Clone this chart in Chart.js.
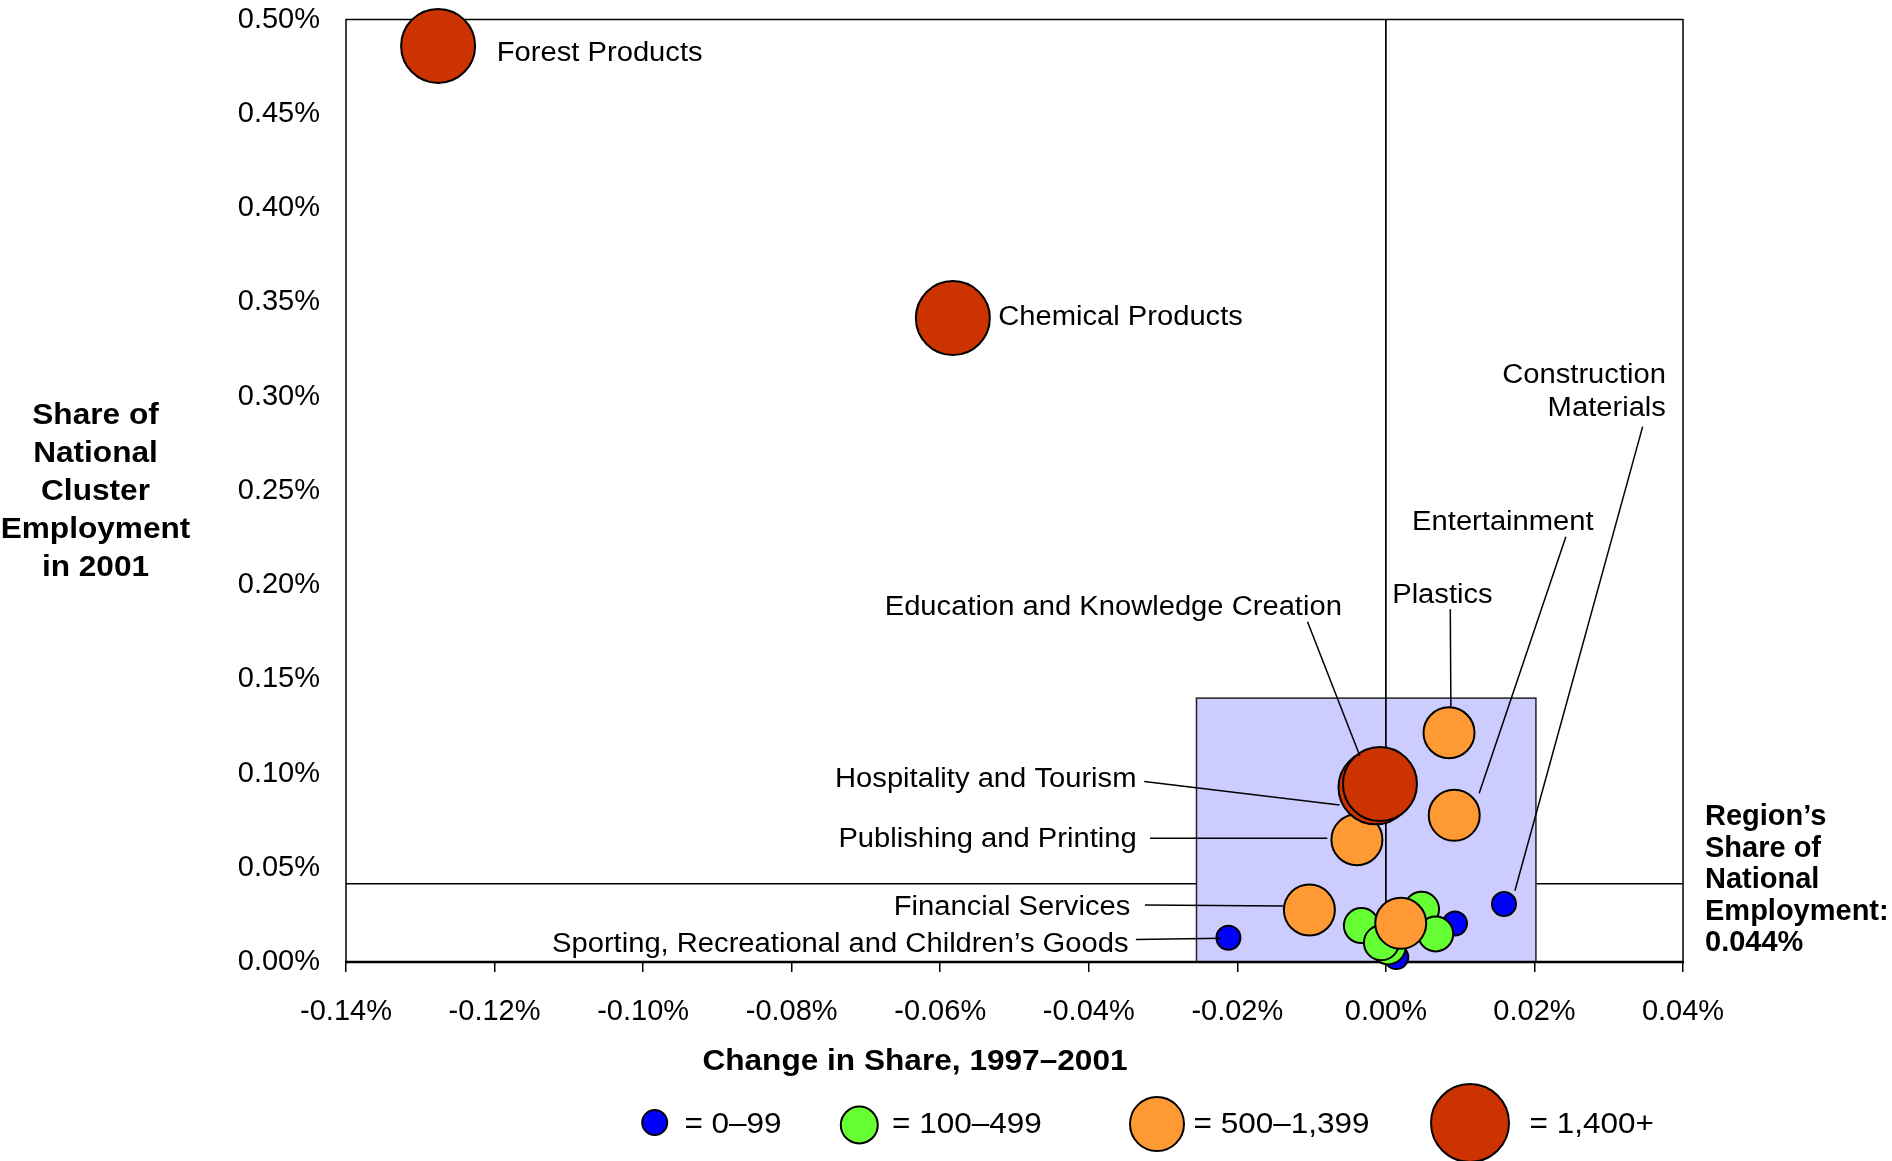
<!DOCTYPE html>
<html>
<head>
<meta charset="utf-8">
<script src="https://cdn.jsdelivr.net/npm/chart.js@4.4.1/dist/chart.umd.min.js"></script>
<style>
html,body{margin:0;padding:0;background:#fff;overflow:hidden}
canvas{display:block}
</style>
</head>
<body>
<canvas id="c" width="1892" height="1161"></canvas>
<script>
// ---------------- DATA ----------------
const clusterNames = [
  'Forest Products', 'Chemical Products', 'Hospitality and Tourism',
  'Education and Knowledge Creation', 'Plastics', 'Entertainment',
  'Publishing and Printing', 'Financial Services', '',
  '', '', '', '', '',
  'Sporting, Recreational and Children\u2019s Goods', 'Construction Materials', '', ''
];
// Change in share 1997–2001 (percentage points)
const changeInShare = [
  -0.1276, -0.0583, -0.0014, -0.0008, 0.0085, 0.0092, -0.0039, -0.0103, 0.0020,
  0.0048, -0.0033, 0.0003, -0.0006, 0.0067,
  -0.0212, 0.0159, 0.0093, 0.0014
];
// Share of national cluster employment in 2001 (%)
const shareOfNational = [
  0.486, 0.3416, 0.0927, 0.0944, 0.1216, 0.0778, 0.0649, 0.0276, 0.0205,
  0.0280, 0.0193, 0.0080, 0.0102, 0.0149,
  0.0129, 0.0308, 0.0204, 0.0026
];
// Employment size class: 0 = 0–99, 1 = 100–499, 2 = 500–1,399, 3 = 1,400+
const sizeClass = [
  3, 3, 3, 3, 2, 2, 2, 2, 2,
  1, 1, 1, 1, 1,
  0, 0, 0, 0
];
const sizeClassLabels = ['= 0\u201399', '= 100\u2013499', '= 500\u20131,399', '= 1,400+'];
const xTickValues = [-0.14, -0.12, -0.10, -0.08, -0.06, -0.04, -0.02, 0.00, 0.02, 0.04];
const yTickValues = [0, 0.05, 0.10, 0.15, 0.20, 0.25, 0.30, 0.35, 0.40, 0.45, 0.50];
const regionShareLabel = '0.044%';
const regionShareLine = 0.0415;
const focusBox = { xMin: -0.0255, xMax: 0.0202, yMin: 0, yMax: 0.14 };

// ---------------- STYLE / LAYOUT ----------------
const FONT = '"Liberation Sans", Arial, Helvetica, sans-serif';
const classColors = ['#0000FF', '#66FF33', '#FF9933', '#CC3300'];
const classRadius = [12, 17.5, 25.5, 37];

// Annotation labels, anchored in data units
const annotations = [
  { name: 'Forest Products', lines: ['Forest Products'], x: -0.1197, y: 0.4833, align: 'left' },
  { name: 'Chemical Products', lines: ['Chemical Products'], x: -0.0522, y: 0.3432, align: 'left' },
  { name: 'Construction Materials', lines: ['Construction', 'Materials'], x: 0.0377, y: 0.3125, align: 'right',
    leader: [0.03457, 0.2840, 0.01737, 0.0378] },
  { name: 'Entertainment', lines: ['Entertainment'], x: 0.01575, y: 0.2345, align: 'center',
    leader: [0.02423, 0.2256, 0.01256, 0.0895] },
  { name: 'Plastics', lines: ['Plastics'], x: 0.00761, y: 0.1958, align: 'center',
    leader: [0.00867, 0.1871, 0.00875, 0.1354] },
  { name: 'Education and Knowledge Creation', lines: ['Education and Knowledge Creation'], x: -0.0367, y: 0.1894, align: 'center',
    leader: [-0.01055, 0.1805, -0.0035, 0.1093] },
  { name: 'Hospitality and Tourism', lines: ['Hospitality and Tourism'], x: -0.03358, y: 0.0982, align: 'right',
    leader: [-0.03253, 0.0957, -0.00625, 0.0833] },
  { name: 'Publishing and Printing', lines: ['Publishing and Printing'], x: -0.03355, y: 0.0665, align: 'right',
    leader: [-0.03175, 0.0656, -0.00789, 0.0656] },
  { name: 'Financial Services', lines: ['Financial Services'], x: -0.03441, y: 0.0302, align: 'right',
    leader: [-0.03245, 0.0302, -0.01383, 0.0297] },
  { name: 'Sporting', lines: ['Sporting, Recreational and Children\u2019s Goods'], x: -0.03465, y: 0.0108, align: 'right',
    leader: [-0.03366, 0.0120, -0.02212, 0.0126] }
];

function drawText(ctx, s, x, y, size, bold, align, sx) {
  ctx.save();
  ctx.font = (bold ? 'bold ' : '') + size + 'px ' + FONT;
  ctx.fillStyle = '#000';
  ctx.textBaseline = 'middle';
  ctx.textAlign = align;
  ctx.translate(x, y);
  ctx.scale(sx || 1, 1);
  ctx.fillText(s, 0, 0);
  ctx.restore();
}
function seg(ctx, x1, y1, x2, y2, w) {
  ctx.beginPath();
  ctx.lineWidth = w;
  ctx.moveTo(x1, y1);
  ctx.lineTo(x2, y2);
  ctx.stroke();
}

const decor = {
  id: 'decor',
  beforeDatasetsDraw(chart) {
    const { ctx, chartArea: a, scales: { x, y } } = chart;
    ctx.save();
    ctx.strokeStyle = '#000';
    // region share reference line
    const ry = y.getPixelForValue(regionShareLine);
    seg(ctx, a.left, ry, a.right, ry, 1.5);
    // focus box
    const bx1 = x.getPixelForValue(focusBox.xMin), bx2 = x.getPixelForValue(focusBox.xMax);
    const by1 = y.getPixelForValue(focusBox.yMax), by2 = y.getPixelForValue(focusBox.yMin);
    ctx.fillStyle = '#CCCCFF';
    ctx.fillRect(bx1, by1, bx2 - bx1, by2 - by1);
    ctx.strokeStyle = '#222';
    ctx.lineWidth = 1.5;
    ctx.strokeRect(bx1, by1, bx2 - bx1, by2 - by1);
    // zero change line
    ctx.strokeStyle = '#000';
    const zx = x.getPixelForValue(0);
    seg(ctx, zx, a.top, zx, a.bottom, 1.7);
    // frame
    ctx.lineWidth = 1.5;
    ctx.strokeRect(a.left, a.top, a.right - a.left, a.bottom - a.top);
    seg(ctx, a.left - 1, a.bottom, a.right + 1, a.bottom, 2.6);
    ctx.restore();
  },
  afterDatasetsDraw(chart) {
    const { ctx, scales: { x, y } } = chart;
    ctx.save();
    ctx.strokeStyle = '#000';
    // annotations
    annotations.forEach(an => {
      const px = x.getPixelForValue(an.x), py = y.getPixelForValue(an.y) + 2.5;
      an.lines.forEach((ln, i) => drawText(ctx, ln, px, py + i * 33, 27, false, an.align, 1.08));
      if (an.leader) {
        const [x1, y1, x2, y2] = an.leader;
        seg(ctx, x.getPixelForValue(x1), y.getPixelForValue(y1), x.getPixelForValue(x2), y.getPixelForValue(y2), 1.5);
      }
    });
    // y axis title
    const yTitle = ['Share of', 'National', 'Cluster', 'Employment', 'in 2001'];
    yTitle.forEach((t, i) => drawText(ctx, t, 95.5, 415.5 + i * 38, 29, true, 'center', 1.09));
    // x axis title
    drawText(ctx, 'Change in Share, 1997\u20132001', 915, 1062, 29, true, 'center', 1.09);
    // region share note
    const note = ['Region\u2019s', 'Share of', 'National', 'Employment:', regionShareLabel];
    note.forEach((t, i) => drawText(ctx, t, 1705, 817 + i * 31.5, 29, true, 'left', 1.0));
    // size legend
    const legCircles = [[654.7, 1122.5, 12.5], [859.3, 1125, 18.5], [1157, 1124, 27], [1470, 1123, 39]];
    const legText = [684.4, 892, 1193.5, 1529.5];
    legCircles.forEach((c, i) => {
      ctx.beginPath();
      ctx.arc(c[0], c[1], c[2], 0, Math.PI * 2);
      ctx.fillStyle = classColors[i];
      ctx.fill();
      ctx.lineWidth = 2;
      ctx.strokeStyle = '#000';
      ctx.stroke();
      drawText(ctx, sizeClassLabels[i], legText[i], 1125, 30, false, 'left', 1.05);
    });
    ctx.restore();
  }
};

const idx = clusterNames.map((_, i) => i);
const datasets = sizeClassLabels.map((lab, ci) => ({
  label: lab,
  data: idx.filter(i => sizeClass[i] === ci).map(i => ({ x: changeInShare[i], y: shareOfNational[i], name: clusterNames[i] })),
  backgroundColor: classColors[ci],
  borderColor: '#000',
  borderWidth: 2,
  radius: classRadius[ci],
  hoverRadius: 0,
  hoverBorderWidth: 2,
  clip: false,
  order: 3 - ci
}));

const fmt = v => (Math.abs(v) < 1e-9 ? 0 : v).toFixed(2) + '%';

new Chart(document.getElementById('c'), {
  type: 'bubble',
  data: { datasets },
  options: {
    responsive: false,
    animation: false,
    events: [],
    layout: { autoPadding: false, padding: { left: 0, right: 209, top: 19.5, bottom: 139 } },
    plugins: { legend: { display: false }, tooltip: { enabled: false } },
    scales: {
      x: {
        type: 'linear',
        min: xTickValues[0], max: xTickValues[xTickValues.length - 1],
        afterBuildTicks: s => { s.ticks = xTickValues.map(v => ({ value: v })); },
        ticks: { callback: fmt, color: '#000', font: { family: FONT, size: 29 }, padding: 23, maxRotation: 0, autoSkip: false },
        grid: { display: true, drawOnChartArea: false, drawTicks: true, tickLength: 10, color: '#000', lineWidth: 1.5 },
        border: { display: false },
        afterFit: s => { s.height = 60; s.paddingLeft = 0; s.paddingRight = 0; }
      },
      y: {
        type: 'linear',
        min: yTickValues[0], max: yTickValues[yTickValues.length - 1],
        afterBuildTicks: s => { s.ticks = yTickValues.map(v => ({ value: v })); },
        ticks: { callback: fmt, color: '#000', font: { family: FONT, size: 29 }, padding: 26, autoSkip: false },
        grid: { display: false, drawTicks: false },
        border: { display: false },
        afterFit: s => { s.width = 346; s.paddingTop = 0; s.paddingBottom = 0; }
      }
    }
  },
  plugins: [decor]
});
</script>
</body>
</html>
